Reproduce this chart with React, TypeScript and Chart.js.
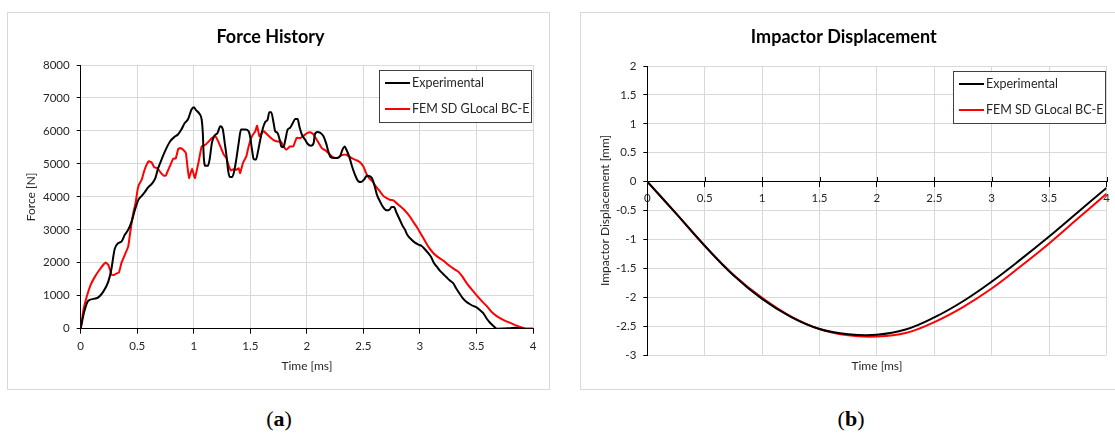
import React, { useEffect, useRef } from 'react';
import { Chart, registerables } from 'chart.js';

Chart.register(...registerables);

// ---------- Data: (a) Force History ----------
const timeExp = [
  0, 0.03, 0.068, 0.14, 0.2, 0.244, 0.27, 0.3, 0.33, 0.36, 0.39, 0.42, 0.45, 0.48, 0.51, 0.54, 0.57, 0.6, 0.63, 0.66,
  0.685, 0.715, 0.745, 0.79, 0.83, 0.86, 0.89, 0.92, 0.95, 0.98, 1.0, 1.02, 1.05, 1.07, 1.08, 1.088, 1.103, 1.124, 1.14, 1.16,
  1.18, 1.21, 1.235, 1.256, 1.274, 1.29, 1.303, 1.318, 1.34, 1.36, 1.38, 1.397, 1.418, 1.456, 1.485, 1.5, 1.515, 1.53, 1.55, 1.568,
  1.588, 1.612, 1.632, 1.653, 1.668, 1.685, 1.706, 1.72, 1.74, 1.76, 1.774, 1.794, 1.81, 1.83, 1.85, 1.876, 1.897, 1.918, 1.935, 1.956,
  1.985, 2.006, 2.035, 2.06, 2.07, 2.094, 2.12, 2.147, 2.17, 2.19, 2.21, 2.24, 2.27, 2.294, 2.315, 2.335, 2.35, 2.374, 2.4, 2.426,
  2.456, 2.48, 2.51, 2.53, 2.56, 2.58, 2.6, 2.62, 2.647, 2.676, 2.706, 2.73, 2.75, 2.77, 2.794, 2.82, 2.847, 2.868, 2.888, 2.918,
  2.956, 2.994, 3.015, 3.044, 3.074, 3.1, 3.124, 3.15, 3.176, 3.206, 3.235, 3.265, 3.294, 3.32, 3.35, 3.38, 3.41, 3.44, 3.47, 3.5,
  3.53, 3.56, 3.59, 3.62, 3.65, 3.68, 3.79, 3.85, 3.91, 4.0,
];
const forceExp = [
  0, 500, 851, 922, 1125, 1430, 1780, 2410, 2590, 2640, 2850, 3000, 3250, 3610, 3910, 4030, 4160, 4300, 4400, 4570,
  4870, 5130, 5380, 5680, 5820, 5890, 6040, 6240, 6360, 6650, 6720, 6630, 6520, 6340, 5940, 5230, 4940, 4940, 5130, 5630,
  5840, 5940, 6140, 6060, 5630, 5230, 4820, 4600, 4600, 4820, 5230, 5630, 6040, 6040, 5990, 5790, 5430, 5150, 5130, 5380,
  5730, 6090, 6270, 6340, 6570, 6570, 6240, 5990, 5940, 5730, 5530, 5510, 5730, 6040, 6090, 6240, 6360, 6360, 6120, 5890,
  5730, 5610, 5550, 5630, 5890, 5970, 5940, 5840, 5630, 5380, 5210, 5180, 5180, 5230, 5430, 5530, 5430, 5230, 4920, 4670,
  4470, 4450, 4540, 4640, 4620, 4540, 4320, 4060, 3860, 3680, 3590, 3610, 3690, 3690, 3510, 3320, 3120, 3000, 2850, 2730,
  2610, 2540, 2510, 2410, 2290, 2170, 1990, 1880, 1760, 1660, 1560, 1460, 1380, 1230, 1070, 920, 820, 750, 690, 650,
  570, 470, 310, 180, 80, 0, 10, 30, 0, 0,
];
const timeFem = [
  0, 0.024, 0.053, 0.088, 0.126, 0.165, 0.2, 0.22, 0.244, 0.26, 0.274, 0.294, 0.318, 0.338, 0.36, 0.39, 0.42, 0.435, 0.45, 0.465,
  0.485, 0.503, 0.515, 0.54, 0.56, 0.582, 0.603, 0.626, 0.65, 0.68, 0.706, 0.735, 0.753, 0.774, 0.794, 0.818, 0.84, 0.862, 0.88, 0.906,
  0.93, 0.944, 0.958, 0.985, 1.01, 1.044, 1.07, 1.103, 1.132, 1.162, 1.19, 1.21, 1.235, 1.265, 1.288, 1.309, 1.33, 1.35, 1.374, 1.397,
  1.41, 1.435, 1.465, 1.485, 1.515, 1.544, 1.56, 1.58, 1.6, 1.62, 1.65, 1.68, 1.71, 1.74, 1.77, 1.794, 1.82, 1.85, 1.88, 1.91,
  1.94, 1.97, 2.006, 2.03, 2.06, 2.088, 2.132, 2.176, 2.22, 2.25, 2.28, 2.31, 2.35, 2.38, 2.41, 2.44, 2.47, 2.5, 2.524, 2.55,
  2.58, 2.61, 2.647, 2.676, 2.706, 2.735, 2.765, 2.794, 2.82, 2.86, 2.9, 2.94, 2.97, 3.03, 3.074, 3.12, 3.16, 3.206, 3.25, 3.294,
  3.34, 3.376, 3.41, 3.456, 3.5, 3.544, 3.59, 3.63, 3.676, 3.72, 3.76, 3.81, 3.85, 3.9, 3.94, 4.0,
];
const forceFem = [
  0, 570, 970, 1330, 1580, 1780, 1940, 2010, 1940, 1780, 1630, 1630, 1680, 1700, 1990, 2240, 2490, 2850, 3200, 3510,
  3810, 4210, 4370, 4520, 4770, 4970, 5080, 5050, 4900, 4870, 4740, 4640, 4640, 4820, 4970, 5160, 5160, 5450, 5480, 5430,
  5330, 4920, 4570, 4850, 4570, 5080, 5530, 5580, 5680, 5790, 5840, 5730, 5530, 5280, 5180, 4940, 4800, 4840, 4820, 4870,
  4720, 5030, 5230, 5530, 5840, 5990, 6160, 5840, 5940, 5990, 5890, 5790, 5710, 5680, 5680, 5530, 5430, 5530, 5530, 5790,
  5780, 5850, 5940, 5960, 5890, 5730, 5480, 5380, 5230, 5180, 5200, 5270, 5280, 5210, 5150, 5110, 5050, 4920, 4720, 4570,
  4470, 4320, 4160, 4030, 3960, 3910, 3890, 3810, 3730, 3610, 3450, 3250, 3100, 2750, 2490, 2290, 2170, 2070, 1940, 1830,
  1730, 1580, 1400, 1200, 1020, 850, 690, 520, 390, 300, 230, 160, 100, 40, 0, 0,
];

// ---------- Data: (b) Impactor Displacement ----------
const timeDisp = [0, 0.25, 0.5, 0.75, 1, 1.25, 1.5, 1.75, 2, 2.25, 2.5, 2.75, 3, 3.25, 3.5, 3.75, 4];
const dispExp = [0, -0.55, -1.11, -1.62, -2.03, -2.34, -2.55, -2.64, -2.65, -2.56, -2.35, -2.07, -1.73, -1.35, -0.95, -0.53, -0.11];
const dispFem = [0, -0.55, -1.11, -1.61, -2.01, -2.33, -2.55, -2.66, -2.68, -2.62, -2.43, -2.17, -1.85, -1.47, -1.07, -0.64, -0.21];

const seriesLabels = ['Experimental', 'FEM SD GLocal BC-E'];
const seriesColors = ['#000000', '#ff0000'];
const chartTitles = ['Force History', 'Impactor Displacement'];
const axisTitles = { time: 'Time [ms]', force: 'Force [N]', disp: 'Impactor Displacement [mm]' };

const FONT = 'Lato, "Open Sans", sans-serif';
const TEXT = '#262626';
const GRID = '#d9d9d9';

const toPoints = (xs: number[], ys: number[]) => xs.map((x, i) => ({ x, y: ys[i] }));

const insetLegend = {
  id: 'insetLegend',
  afterDatasetsDraw(chart: any) {
    const { ctx, chartArea } = chart;
    const w = 152;
    const h = 52;
    const x = Math.round(chartArea.right - 2 - w);
    const y = Math.round(chartArea.top + 5);
    ctx.save();
    ctx.fillStyle = '#ffffff';
    ctx.fillRect(x, y, w, h);
    ctx.strokeStyle = '#404040';
    ctx.lineWidth = 1;
    ctx.strokeRect(x + 0.5, y + 0.5, w, h);
    chart.data.datasets.forEach((ds: any, i: number) => {
      const ry = y + 13 + i * 26;
      ctx.strokeStyle = ds.borderColor;
      ctx.lineWidth = 2;
      ctx.beginPath();
      ctx.moveTo(x + 6, ry);
      ctx.lineTo(x + 31, ry);
      ctx.stroke();
      ctx.fillStyle = TEXT;
      ctx.font = `12.5px ${FONT}`;
      ctx.textBaseline = 'middle';
      ctx.textAlign = 'left';
      ctx.fillText(ds.label, x + 33, ry);
    });
    ctx.restore();
  },
};

const upTicks = {
  id: 'upTicks',
  beforeDatasetsDraw(chart: any) {
    const { ctx } = chart;
    const xs = chart.scales.x;
    const ys = chart.scales.y;
    const y0 = Math.round(ys.getPixelForValue(0));
    ctx.save();
    ctx.strokeStyle = '#000';
    ctx.lineWidth = 1;
    xs.ticks.forEach((t: any) => {
      const px = Math.round(xs.getPixelForValue(t.value)) + 0.5;
      ctx.beginPath();
      ctx.moveTo(px, y0 - 5);
      ctx.lineTo(px, y0);
      ctx.stroke();
    });
    ctx.restore();
  },
};

const tickFont = { family: FONT, size: 11.5 };
const titleFont = { family: FONT, size: 12 };

function makeDatasets(xa: number[], ya: number[], xb: number[], yb: number[], smooth: boolean) {
  return [
    {
      label: seriesLabels[0],
      data: toPoints(xa, ya),
      borderColor: seriesColors[0],
      backgroundColor: seriesColors[0],
      borderWidth: 2,
      pointRadius: 0,
      fill: false,
      tension: smooth ? 0.4 : 0,
      cubicInterpolationMode: smooth ? 'default' : 'monotone',
    },
    {
      label: seriesLabels[1],
      data: toPoints(xb, yb),
      borderColor: seriesColors[1],
      backgroundColor: seriesColors[1],
      borderWidth: 2,
      pointRadius: 0,
      fill: false,
      tension: smooth ? 0.4 : 0.1,
    },
  ];
}

function configA(): any {
  return {
    type: 'line',
    data: { datasets: makeDatasets(timeExp, forceExp, timeFem, forceFem, false) },
    plugins: [insetLegend],
    options: {
      responsive: false,
      animation: false,
      layout: { padding: { left: 0, right: 16, top: 0, bottom: 0 } },
      plugins: {
        legend: { display: false },
        tooltip: { enabled: false },
        title: {
          display: true,
          text: chartTitles[0],
          color: '#000',
          font: { family: FONT, size: 18, weight: 'bold' },
          padding: { top: 13.2, bottom: 17.2 },
        },
      },
      scales: {
        x: {
          type: 'linear',
          min: 0,
          max: 4,
          ticks: { stepSize: 0.5, callback: (v: any) => String(v), color: TEXT, font: tickFont, padding: 6, maxRotation: 0, autoSkip: false },
          grid: { color: GRID, tickColor: '#000', tickLength: 5, lineWidth: 1 },
          border: { color: '#000', width: 1 },
          title: { display: true, text: axisTitles.time, color: TEXT, font: titleFont, padding: { top: 0, bottom: 15.8 } },
          afterFit: (s: any) => { s.height = 60.3; },
        },
        y: {
          type: 'linear',
          min: 0,
          max: 8000,
          ticks: { stepSize: 1000, callback: (v: any) => String(v), color: TEXT, font: tickFont, padding: 7 },
          grid: { color: GRID, tickColor: '#000', tickLength: 4, lineWidth: 1 },
          border: { color: '#000', width: 1 },
          title: { display: true, text: axisTitles.force, color: TEXT, font: titleFont, padding: { top: 15.8, bottom: 0 } },
          afterFit: (s: any) => { s.width = 72.7; },
        },
      },
    },
  };
}

function configB(): any {
  return {
    type: 'line',
    data: { datasets: makeDatasets(timeDisp, dispExp, timeDisp, dispFem, true) },
    plugins: [upTicks, insetLegend],
    options: {
      responsive: false,
      animation: false,
      layout: { padding: { left: 0, right: 14.5, top: 0, bottom: 34 } },
      plugins: {
        legend: { display: false },
        tooltip: { enabled: false },
        title: {
          display: true,
          text: chartTitles[1],
          color: '#000',
          font: { family: FONT, size: 18, weight: 'bold' },
          padding: { top: 13.2, bottom: 18.2 },
        },
      },
      scales: {
        x: {
          type: 'linear',
          position: { y: 0 },
          min: 0,
          max: 4,
          ticks: { stepSize: 0.5, callback: (v: any) => String(v), color: TEXT, font: tickFont, padding: 5, maxRotation: 0, autoSkip: false },
          grid: { color: GRID, tickColor: '#000', tickLength: 5, lineWidth: 1 },
          border: { color: '#000', width: 1 },
          title: { display: true, text: axisTitles.time, color: TEXT, font: titleFont, padding: { top: 0, bottom: 0 } },
          afterFit: (s: any) => { s.height = 191.5; },
        },
        y: {
          type: 'linear',
          min: -3,
          max: 2,
          ticks: { stepSize: 0.5, callback: (v: any) => String(v), color: TEXT, font: tickFont, padding: 7 },
          grid: { color: GRID, tickColor: '#000', tickLength: 4, lineWidth: 1 },
          border: { color: '#000', width: 1 },
          title: { display: true, text: axisTitles.disp, color: TEXT, font: titleFont, padding: { top: 16.8, bottom: 0 } },
          afterFit: (s: any) => { s.width = 66.3; },
        },
      },
    },
  };
}

function ChartCanvas({ make, width, height }: { make: () => any; width: number; height: number }) {
  const ref = useRef<HTMLCanvasElement | null>(null);
  useEffect(() => {
    if (!ref.current) return;
    const chart = new Chart(ref.current, make());
    return () => chart.destroy();
  }, [make]);
  return <canvas ref={ref} width={width} height={height} style={{ display: 'block', width, height }} />;
}

const panelLabel: React.CSSProperties = {
  position: 'absolute',
  top: 405,
  width: 100,
  textAlign: 'center',
  fontFamily: '"Liberation Serif", "DejaVu Serif", serif',
  fontSize: 22,
  lineHeight: '28px',
  color: '#000',
};

export default function App() {
  return (
    <div style={{ position: 'fixed', left: 0, top: 0, width: 1115, height: 433, overflow: 'hidden', background: '#fff' }}>
      <div style={{ position: 'absolute', left: 7, top: 12, width: 541, height: 376, border: `1px solid ${GRID}` }}>
        <ChartCanvas make={configA} width={541} height={376} />
      </div>
      <div style={{ position: 'absolute', left: 580, top: 12, width: 540, height: 376, border: `1px solid ${GRID}` }}>
        <ChartCanvas make={configB} width={540} height={376} />
      </div>
      <div style={{ ...panelLabel, left: 229 }}>(<b>a</b>)</div>
      <div style={{ ...panelLabel, left: 801 }}>(<b>b</b>)</div>
    </div>
  );
}
